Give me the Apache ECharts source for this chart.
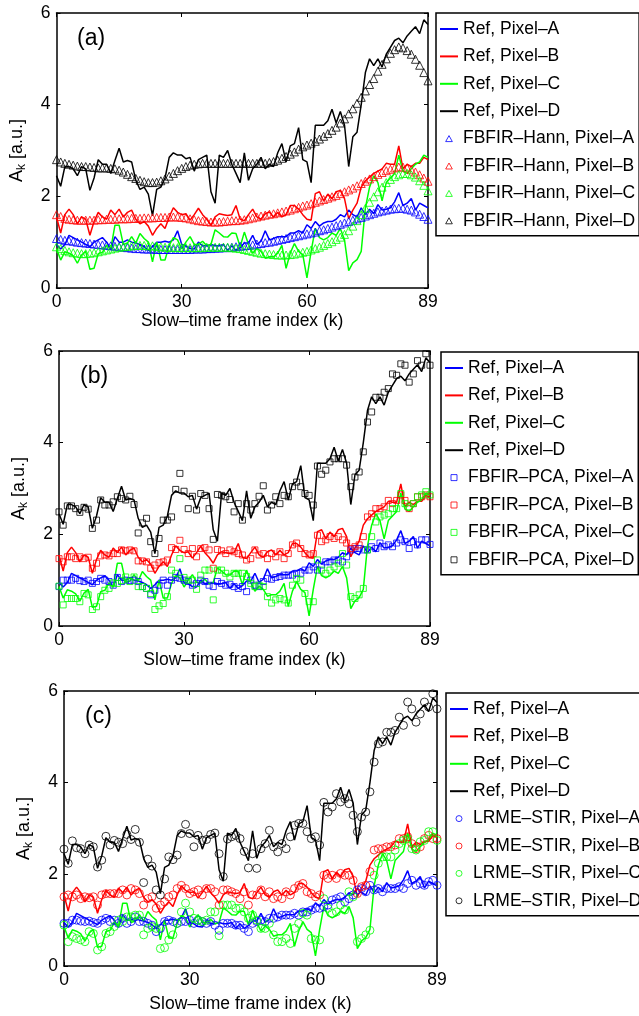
<!DOCTYPE html>
<html><head><meta charset="utf-8">
<script src="https://cdn.jsdelivr.net/npm/echarts@6/dist/echarts.min.js"></script>
<style>html,body{margin:0;padding:0;background:#fff}#c{width:639px;height:1016px}</style>
</head><body><div id="c"></div>
<script>
// ---------- data ----------
const FRAMES = Array.from({length: 90}, (_, i) => i);
const X_TICKS = [0, 30, 60, 89];
const Y_TICKS = [0, 2, 4, 6];
const PIXELS = ['A', 'B', 'C', 'D'];

const REF_A = [
0.95,0.85,0.95,1.15,1.10,1.05,1.00,0.95,0.90,1.00,
1.05,1.10,1.00,0.85,1.12,1.00,1.00,1.05,1.00,0.98,
0.95,0.90,0.82,0.90,1.00,1.00,1.02,1.00,1.05,1.25,
0.95,0.92,0.86,0.85,1.00,0.92,0.92,0.95,0.92,0.92,
0.95,0.82,0.92,0.82,0.88,0.98,0.98,1.15,0.95,1.02,
1.25,1.05,1.08,1.12,1.12,1.12,1.20,1.20,1.25,1.20,
1.38,1.30,1.45,1.35,1.42,1.45,1.45,1.50,1.60,1.55,
1.70,1.60,1.55,1.75,1.60,1.72,1.62,1.82,1.70,1.72,
1.75,1.88,2.08,1.80,1.85,1.95,1.70,1.85,1.80,1.75];
const REF_B = [
1.55,1.20,1.60,1.72,1.60,1.40,1.55,1.50,1.15,1.45,
1.65,1.55,1.50,1.70,1.60,1.72,1.55,1.65,1.70,1.50,
1.40,1.45,1.35,1.15,1.30,1.40,1.30,1.55,1.75,1.65,
1.60,1.62,1.48,1.60,1.74,1.60,1.50,1.37,1.55,1.62,
1.60,1.58,1.60,1.80,1.50,1.47,1.60,1.72,1.55,1.50,
1.62,1.66,1.55,1.65,1.55,1.60,1.80,1.80,1.72,1.60,
1.50,1.48,2.06,2.10,1.90,2.05,1.95,2.10,2.13,1.95,
1.51,1.70,1.85,2.20,2.34,2.42,2.50,2.55,2.60,2.72,
2.70,2.70,3.10,2.60,2.70,2.65,2.72,2.72,2.85,2.80];
const REF_C = [
0.86,0.61,0.79,0.76,0.70,0.54,0.72,0.80,0.41,0.43,
0.75,0.78,0.94,0.85,1.37,1.37,0.95,0.98,1.12,0.98,
1.19,1.08,1.00,0.57,1.00,0.61,0.61,0.93,1.10,1.05,
0.85,1.00,1.12,0.95,0.95,1.02,0.92,0.95,1.27,1.20,
1.12,1.11,1.20,1.19,0.90,1.22,0.95,0.76,0.87,0.80,
0.65,0.68,0.68,0.76,0.93,0.43,0.76,0.97,0.80,0.73,
0.22,0.80,1.30,1.10,1.05,1.10,1.20,1.15,1.30,1.05,
0.38,0.55,0.62,0.80,1.75,2.20,2.45,2.30,1.90,2.30,
2.40,2.50,2.90,2.55,2.50,2.60,2.70,2.75,2.90,2.85];
const REF_D = [
2.45,2.22,2.65,2.65,2.60,2.45,2.65,2.60,2.13,2.40,
2.80,2.70,2.70,2.50,2.78,3.05,2.75,2.78,2.75,2.35,
2.15,2.20,2.05,1.58,2.15,2.20,2.40,2.85,2.95,2.90,
2.90,2.82,2.85,2.55,2.80,2.85,2.90,2.10,1.85,2.90,
2.85,3.00,2.70,2.50,2.30,2.95,2.35,2.60,2.70,2.85,
2.60,2.70,2.65,2.95,3.15,2.75,3.10,3.15,3.50,2.80,
2.75,2.30,3.55,3.55,3.55,3.65,3.90,3.60,3.85,3.55,
2.65,3.30,3.40,4.00,4.70,5.00,4.85,5.00,4.82,5.10,
5.25,5.40,5.45,5.35,5.50,5.60,5.70,5.55,5.85,5.75];

const HANN_A = [
1.08,1.06,1.04,1.03,1.02,1.00,0.99,0.98,0.97,0.96,
0.95,0.94,0.93,0.92,0.91,0.90,0.89,0.88,0.87,0.86,
0.86,0.85,0.85,0.85,0.84,0.84,0.84,0.84,0.84,0.84,
0.84,0.84,0.84,0.85,0.85,0.85,0.86,0.86,0.87,0.87,
0.88,0.88,0.89,0.90,0.91,0.92,0.93,0.94,0.96,0.97,
0.99,1.00,1.02,1.04,1.06,1.08,1.10,1.12,1.14,1.16,
1.18,1.20,1.22,1.25,1.27,1.30,1.33,1.36,1.39,1.42,
1.45,1.48,1.51,1.54,1.57,1.60,1.63,1.66,1.68,1.70,
1.72,1.73,1.74,1.74,1.72,1.70,1.66,1.61,1.56,1.50];
const HANN_B = [
1.60,1.56,1.52,1.50,1.49,1.48,1.48,1.48,1.48,1.48,
1.49,1.49,1.50,1.50,1.50,1.51,1.51,1.51,1.52,1.52,
1.52,1.53,1.53,1.53,1.54,1.54,1.54,1.55,1.55,1.55,
1.54,1.53,1.51,1.49,1.47,1.46,1.45,1.44,1.44,1.44,
1.45,1.46,1.47,1.47,1.48,1.49,1.51,1.53,1.55,1.57,
1.59,1.61,1.62,1.64,1.66,1.68,1.70,1.73,1.76,1.79,
1.81,1.84,1.87,1.90,1.93,1.96,1.99,2.02,2.06,2.10,
2.14,2.18,2.23,2.28,2.33,2.38,2.43,2.48,2.52,2.56,
2.59,2.62,2.64,2.64,2.62,2.58,2.53,2.47,2.40,2.33];
const HANN_C = [
0.90,0.86,0.82,0.79,0.77,0.76,0.75,0.75,0.76,0.77,
0.79,0.81,0.83,0.85,0.87,0.89,0.90,0.91,0.92,0.93,
0.93,0.93,0.92,0.92,0.91,0.90,0.89,0.89,0.88,0.88,
0.88,0.88,0.88,0.88,0.88,0.88,0.89,0.89,0.89,0.89,
0.89,0.89,0.88,0.87,0.86,0.84,0.82,0.80,0.78,0.76,
0.75,0.74,0.73,0.72,0.72,0.72,0.73,0.74,0.76,0.78,
0.80,0.83,0.86,0.89,0.93,0.97,1.01,1.06,1.11,1.17,
1.25,1.35,1.47,1.60,1.74,1.87,1.99,2.10,2.20,2.30,
2.37,2.43,2.47,2.50,2.50,2.47,2.42,2.34,2.24,2.12];
const HANN_D = [
2.80,2.75,2.72,2.70,2.68,2.66,2.65,2.65,2.64,2.63,
2.62,2.62,2.62,2.61,2.60,2.57,2.53,2.48,2.43,2.39,
2.35,2.32,2.30,2.30,2.31,2.34,2.38,2.44,2.50,2.56,
2.61,2.65,2.68,2.70,2.71,2.72,2.72,2.72,2.72,2.72,
2.72,2.72,2.72,2.72,2.72,2.72,2.72,2.72,2.72,2.72,
2.72,2.74,2.76,2.79,2.83,2.87,2.92,2.97,3.03,3.08,
3.12,3.16,3.20,3.25,3.31,3.37,3.44,3.51,3.60,3.69,
3.80,3.91,4.03,4.16,4.30,4.44,4.57,4.73,4.88,5.00,
5.12,5.20,5.26,5.24,5.18,5.10,4.99,4.86,4.70,4.52];

const PCA_A = [
0.86,1.00,1.00,1.00,1.04,0.99,0.97,1.00,0.93,0.97,
1.04,1.00,0.97,0.89,1.06,0.97,1.00,0.99,1.00,0.97,
0.86,0.82,0.68,0.78,0.89,1.00,0.89,1.00,1.06,1.04,
1.00,0.97,0.89,0.93,1.00,0.97,0.89,0.86,0.97,0.93,
0.89,0.91,0.86,0.82,0.86,0.75,1.00,0.89,0.86,0.97,
1.04,1.02,1.06,1.08,1.11,1.11,1.11,1.15,1.15,1.22,
1.22,1.29,1.22,1.33,1.40,1.40,1.44,1.44,1.40,1.51,
1.66,1.69,1.69,1.66,1.66,1.73,1.69,1.81,1.73,1.77,
1.73,1.81,1.88,1.84,1.69,1.84,1.77,1.88,1.88,1.78];
const PCA_B = [
1.47,1.40,1.51,1.51,1.47,1.51,1.47,1.50,1.26,1.37,
1.53,1.55,1.53,1.58,1.58,1.66,1.64,1.66,1.64,1.42,
1.42,1.40,1.26,1.33,1.38,1.40,1.44,1.71,1.67,1.87,
1.67,1.58,1.69,1.51,1.69,1.71,1.66,1.26,1.67,1.64,
1.58,1.66,1.62,1.58,1.55,1.44,1.47,1.66,1.55,1.58,
1.47,1.58,1.51,1.62,1.47,1.58,1.77,1.81,1.69,1.58,
1.55,1.58,1.98,1.84,1.88,1.95,1.91,1.95,1.88,1.81,
1.69,1.73,1.77,1.95,2.38,2.45,2.56,2.56,2.60,2.74,
2.67,2.74,2.86,2.74,2.56,2.67,2.82,2.82,2.86,2.82];
const PCA_C = [
0.87,0.46,0.60,0.60,0.60,0.53,0.71,0.68,0.36,0.42,
0.64,0.78,0.82,0.94,0.93,0.99,1.07,0.97,1.07,0.86,
0.86,0.82,0.71,0.36,0.44,0.49,0.64,1.22,1.15,1.47,
1.06,1.00,1.00,0.80,1.11,1.22,1.22,0.57,1.22,1.22,
1.15,1.07,1.15,1.15,1.15,1.08,0.93,0.86,0.89,0.86,
0.64,0.50,0.57,0.60,0.57,0.50,0.89,1.04,1.00,0.71,
0.53,0.53,1.44,1.22,1.15,1.22,1.29,1.37,1.58,1.33,
0.64,0.60,0.68,0.82,1.66,1.95,2.27,2.38,2.42,2.45,
2.56,2.56,2.89,2.67,2.60,2.67,2.82,2.86,2.93,2.86];
const PCA_D = [
2.49,2.20,2.62,2.62,2.56,2.48,2.59,2.55,2.13,2.31,
2.75,2.64,2.64,2.71,2.82,2.78,2.75,2.83,2.65,2.03,
2.25,2.35,1.84,1.58,1.91,2.31,2.31,2.38,2.98,3.33,
2.94,2.56,2.83,2.53,2.89,2.85,2.56,1.89,2.87,2.85,
2.82,2.76,2.49,2.67,2.31,2.67,2.53,2.67,2.83,3.06,
2.53,2.64,2.82,2.67,2.85,2.82,3.04,3.14,3.04,2.89,
2.85,2.64,3.49,3.31,3.40,3.58,3.65,3.65,3.65,3.51,
3.04,3.25,3.36,3.80,4.45,4.67,4.99,4.99,5.10,5.18,
5.50,5.47,5.72,5.69,5.32,5.50,5.79,5.69,5.94,5.69];

const LRME_A = [
0.93,0.93,1.00,1.00,0.98,0.97,0.98,0.95,0.93,1.00,
1.04,0.97,1.00,0.93,1.04,0.93,0.97,1.07,0.97,0.97,
0.93,0.89,0.75,0.82,0.97,1.00,0.97,0.93,0.97,0.97,
1.00,0.93,1.00,0.97,0.93,0.97,0.89,0.78,0.93,0.93,
0.93,0.89,0.89,0.82,0.75,0.93,0.97,1.00,0.97,1.04,
1.04,1.07,1.11,1.11,1.11,1.15,1.11,1.18,1.18,1.22,
1.26,1.26,1.29,1.33,1.44,1.47,1.51,1.40,1.47,1.55,
1.66,1.69,1.62,1.76,1.66,1.69,1.62,1.69,1.69,1.69,
1.73,1.69,1.80,1.87,1.76,1.80,1.76,1.84,1.87,1.76];
const LRME_B = [
1.51,1.55,1.51,1.55,1.47,1.51,1.49,1.51,1.33,1.55,
1.58,1.58,1.58,1.58,1.66,1.55,1.69,1.66,1.58,1.33,
1.47,1.51,1.26,1.33,1.40,1.51,1.55,1.69,1.76,1.69,
1.58,1.62,1.66,1.55,1.69,1.69,1.62,1.33,1.66,1.66,
1.62,1.58,1.47,1.62,1.33,1.55,1.55,1.66,1.51,1.62,
1.47,1.51,1.47,1.62,1.55,1.69,1.76,1.80,1.62,1.58,
1.51,1.55,1.98,1.91,1.98,1.91,2.02,1.98,1.98,1.87,
1.58,1.73,1.76,2.06,2.53,2.56,2.56,2.60,2.60,2.64,
2.78,2.78,2.82,2.67,2.56,2.60,2.78,2.85,2.78,2.78];
const LRME_C = [
0.89,0.53,0.64,0.60,0.57,0.53,0.75,0.71,0.35,0.42,
0.71,0.75,0.86,1.00,0.97,1.07,1.07,1.11,1.11,0.68,
0.82,0.86,0.82,0.38,0.40,0.57,0.68,0.93,1.18,1.37,
1.18,1.04,1.00,0.97,1.00,1.18,1.18,0.66,1.33,1.33,
1.33,1.26,1.26,1.18,1.04,1.11,1.00,0.82,0.82,0.93,
0.68,0.53,0.53,0.60,0.49,0.82,0.93,1.15,1.11,0.60,
0.57,0.57,1.47,1.26,1.15,1.18,1.33,1.22,1.62,1.51,
0.53,0.60,0.68,0.78,1.98,2.24,2.38,2.38,2.38,2.53,
2.67,2.74,2.78,2.56,2.53,2.71,2.74,2.93,2.93,2.74];
const LRME_D = [
2.55,2.24,2.73,2.58,2.56,2.45,2.64,2.60,2.16,2.31,
2.83,2.64,2.74,2.70,2.67,2.87,2.76,2.98,2.70,1.82,
2.33,2.18,1.66,1.55,1.90,2.38,2.32,2.42,2.89,3.09,
2.89,2.60,2.85,2.74,2.76,2.87,2.90,2.45,1.95,2.77,
2.82,2.85,2.78,2.50,2.14,2.45,2.13,2.56,2.67,2.96,
2.60,2.49,2.67,2.56,2.82,3.07,3.11,3.11,2.93,2.78,
2.82,2.64,3.57,3.36,3.47,3.76,3.58,3.65,3.54,3.29,
2.93,3.25,3.36,3.80,4.45,4.85,4.89,5.10,5.10,5.14,
5.43,5.25,5.76,5.61,5.32,5.50,5.76,5.65,5.94,5.61];

// ---------- styling / layout ----------
const COLORS = ['#0000ff', '#ff0000', '#00ff00', '#000000'];
const FONT = '"Liberation Sans", Arial, Helvetica, sans-serif';
const REFS = [REF_A, REF_B, REF_C, REF_D];
const LEGEND_ICONS = {
  triangle: 'path://M5,0 L10,9 L0,9 Z',
  rect: 'path://M0,0 L10,0 L10,10 L0,10 Z',
  circle: 'path://M10,5 A5,5 0 1 1 0,5 A5,5 0 1 1 10,5 Z'
};
const PANELS = [
  {label: '(a)', method: 'FBFIR–Hann', symbol: 'triangle', size: 8, est: [HANN_A, HANN_B, HANN_C, HANN_D],
   grid: {left: 56, top: 13, width: 372, height: 275}, legend: {left: 436, top: 13}, xGap: 22, yGap: 29, lab: [77, 39]},
  {label: '(b)', method: 'FBFIR–PCA', symbol: 'rect', size: 6, est: [PCA_A, PCA_B, PCA_C, PCA_D],
   grid: {left: 59, top: 351, width: 371, height: 275}, legend: {left: 441, top: 352}, xGap: 25, yGap: 29, lab: [80, 377]},
  {label: '(c)', method: 'LRME–STIR', symbol: 'circle', size: 8, est: [LRME_A, LRME_B, LRME_C, LRME_D],
   grid: {left: 64, top: 691, width: 373, height: 275}, legend: {left: 446, top: 693}, xGap: 29, yGap: 29, lab: [85, 717]}
];

const grids = [], xAxes = [], yAxes = [], series = [], legends = [], graphics = [];
const axisLine = {onZero: false, lineStyle: {color: '#000', width: 1.5}};
const tickStyle = {color: '#000', width: 1};
const txt = {color: '#000', fontSize: 17.5, fontFamily: FONT};

PANELS.forEach((p, gi) => {
  grids.push(Object.assign({show: false}, p.grid));
  xAxes.push({
    gridIndex: gi, type: 'value', min: 0, max: 89, interval: 30, position: 'bottom',
    axisLine, splitLine: {show: false},
    axisTick: {inside: true, length: 4, lineStyle: tickStyle, customValues: X_TICKS},
    axisLabel: Object.assign({customValues: X_TICKS, margin: 5}, txt),
    name: 'Slow–time frame index (k)', nameLocation: 'middle', nameGap: p.xGap, nameTextStyle: txt
  });
  xAxes.push({
    gridIndex: gi, type: 'value', min: 0, max: 89, interval: 30, position: 'top',
    axisLine, splitLine: {show: false},
    axisTick: {inside: true, length: 4, lineStyle: tickStyle, customValues: X_TICKS},
    axisLabel: {show: false}
  });
  yAxes.push({
    gridIndex: gi, type: 'value', min: 0, max: 6, interval: 2, position: 'left',
    axisLine, splitLine: {show: false},
    axisTick: {inside: true, length: 4, lineStyle: tickStyle},
    axisLabel: Object.assign({margin: 6}, txt),
    name: '{a|A}{s|k}{a| [a.u.]}', nameLocation: 'middle', nameRotate: 90, nameGap: p.yGap,
    nameTextStyle: {color: '#000', fontFamily: FONT, rich: {
      a: {fontSize: 18, fontFamily: FONT, color: '#000'},
      s: {fontSize: 12, fontFamily: FONT, color: '#000', padding: [9, 0, 0, 0]}
    }}
  });
  yAxes.push({
    gridIndex: gi, type: 'value', min: 0, max: 6, interval: 2, position: 'right',
    axisLine, splitLine: {show: false},
    axisTick: {inside: true, length: 4, lineStyle: tickStyle},
    axisLabel: {show: false}
  });
  const names = [];
  REFS.forEach((arr, j) => {
    const nm = 'Ref, Pixel–' + PIXELS[j];
    names.push({name: nm, itemStyle: {color: 'rgba(0,0,0,0)', borderWidth: 0, opacity: 0}});
    series.push({
      type: 'line', name: nm, xAxisIndex: gi * 2, yAxisIndex: gi * 2,
      data: FRAMES.map((k, i) => [k, arr[i]]), symbol: 'none', animation: false,
      lineStyle: {color: COLORS[j], width: 1.5}, itemStyle: {color: COLORS[j]}, z: 2
    });
  });
  p.est.forEach((arr, j) => {
    const nm = p.method + ', Pixel–' + PIXELS[j];
    names.push({name: nm, icon: LEGEND_ICONS[p.symbol],
      itemStyle: {color: 'rgba(0,0,0,0)', borderColor: COLORS[j], borderWidth: 1}});
    series.push({
      type: 'scatter', name: nm, xAxisIndex: gi * 2, yAxisIndex: gi * 2,
      data: FRAMES.map((k, i) => [k, arr[i]]), symbol: p.symbol, symbolSize: p.size, animation: false,
      itemStyle: {color: 'rgba(0,0,0,0)', borderColor: COLORS[j], borderWidth: 1}, z: 3
    });
  });
  legends.push({
    left: p.legend.left, top: p.legend.top, orient: 'vertical', data: names,
    itemWidth: 18, itemHeight: 6, itemGap: 9.4, padding: [7, 4, 6, 3],
    symbolKeepAspect: true,
    borderColor: '#000', borderWidth: 1.5, backgroundColor: '#fff',
    selectedMode: false, textStyle: txt
  });
  graphics.push({type: 'text', x: p.lab[0], y: p.lab[1],
    style: {text: p.label, fontSize: 23, fontFamily: FONT, fill: '#000', verticalAlign: 'middle'}});
});

const chart = echarts.init(document.getElementById('c'), null, {renderer: 'canvas'});
chart.setOption({
  animation: false, backgroundColor: '#fff',
  grid: grids, xAxis: xAxes, yAxis: yAxes, series, legend: legends, graphic: graphics
});
</script></body></html>
